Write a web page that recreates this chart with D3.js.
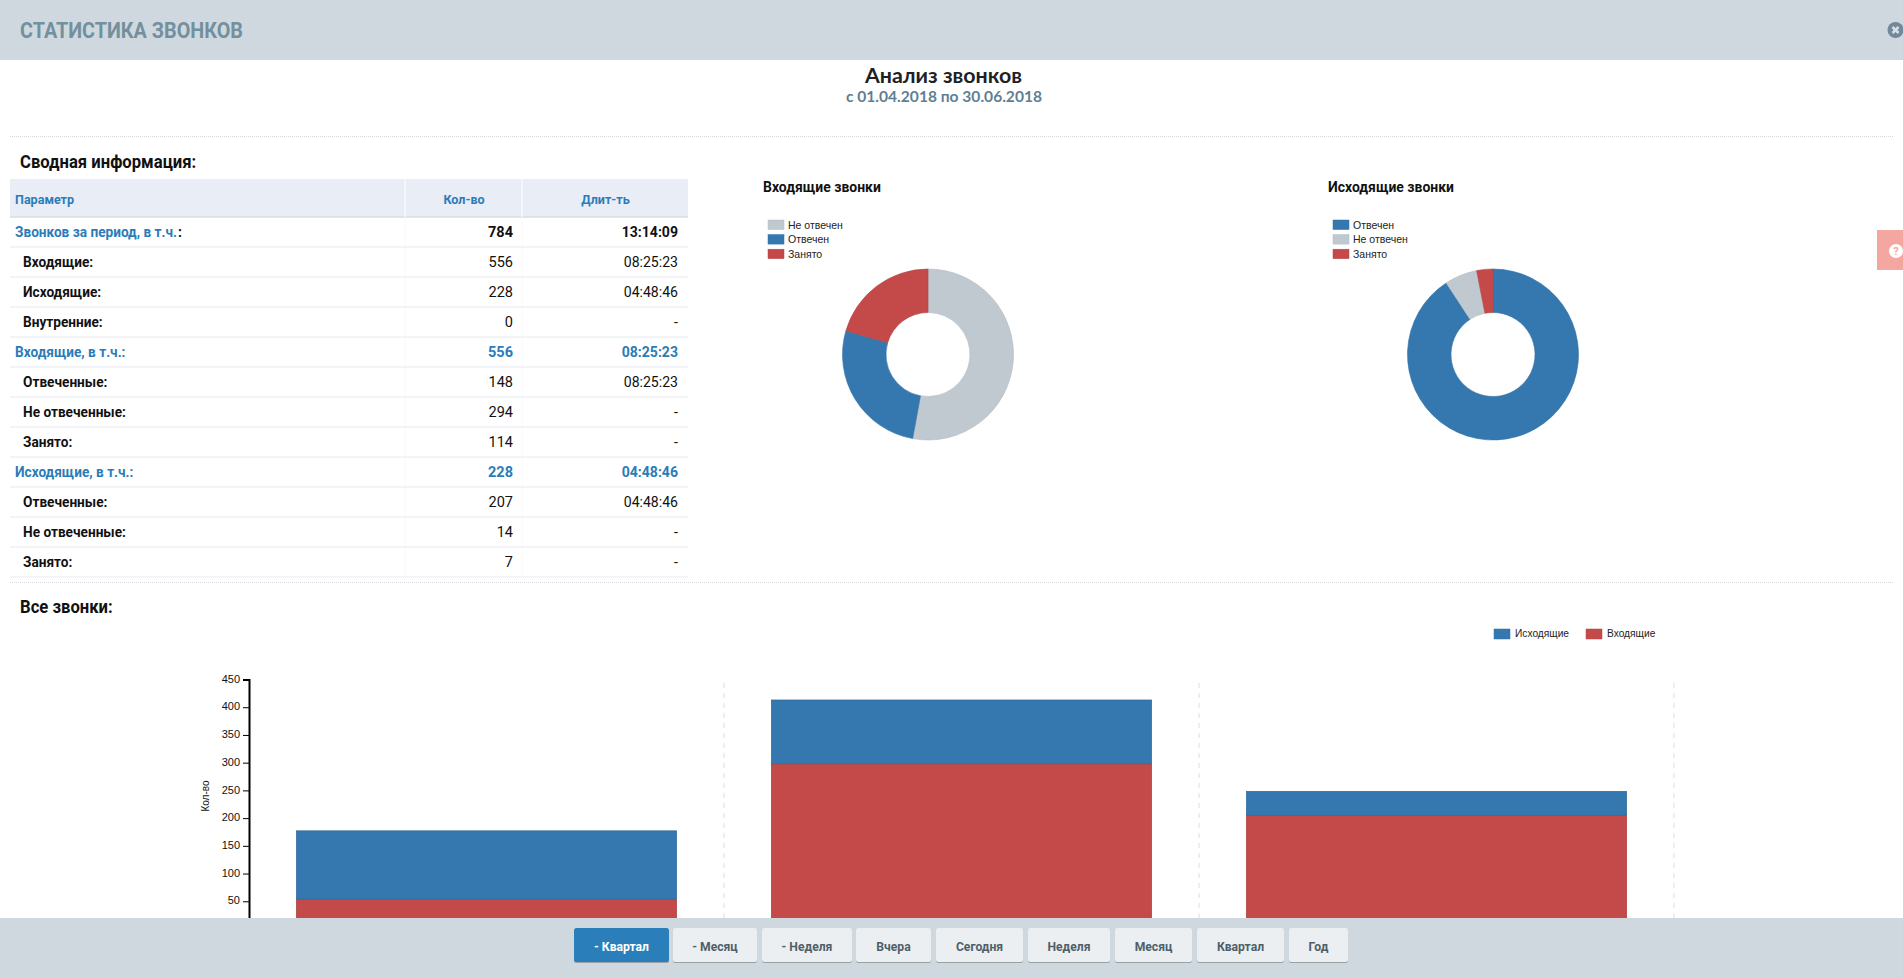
<!DOCTYPE html>
<html>
<head>
<meta charset="utf-8">
<script src="https://cdn.jsdelivr.net/npm/d3@7"></script>
<style>
  html, body { margin: 0; padding: 0; background: #fff; overflow: hidden; }
  svg { display: block; }
  text { font-family: Roboto, "Noto Sans", sans-serif; }
  .small { font-family: "Liberation Sans", Arial, sans-serif; }
  .wide { font-family: Lato, "Noto Sans", Roboto, sans-serif; }
</style>
</head>
<body>
<div id="container"></div>
<script>
// table data
const rowLabels = ['Звонков за период, в т.ч.','Входящие:','Исходящие:','Внутренние:','Входящие, в т.ч.:','Отвеченные:','Не отвеченные:','Занято:','Исходящие, в т.ч.:','Отвеченные:','Не отвеченные:','Занято:'];
const rowCounts = [784,556,228,0,556,148,294,114,228,207,14,7];
const rowDurations = ['13:14:09','08:25:23','04:48:46','-','08:25:23','08:25:23','-','-','04:48:46','04:48:46','-','-'];
const rowKinds = ['total','sub','sub','sub','section','sub','sub','sub','section','sub','sub','sub'];
const tableHeads = ['Параметр','Кол-во','Длит-ть'];

// donuts
const inLabels = ['Не отвечен','Отвечен','Занято'];
const inValues = [294,148,114];
const outLabels = ['Отвечен','Не отвечен','Занято'];
const outValues = [207,14,7];

// stacked bars, category labels are hidden behind the footer
const periods = ['Апрель','Май','Июнь'];
const incoming = [54,298,205];
const outgoing = [123,115,43];
const yTicks = [50,100,150,200,250,300,350,400,450];
const barSeries = ['Входящие','Исходящие'];

const buttons = ['- Квартал','- Месяц','- Неделя','Вчера','Сегодня','Неделя','Месяц','Квартал','Год'];
const buttonEdges = [574,669,673,757,762,852,856,931,936,1023,1028,1110,1115,1192,1197,1284,1289,1348];

const blue = '#3578b0', red = '#c44a4a', grey = '#bfc9cf';
const colorOf = {'Отвечен':blue,'Не отвечен':grey,'Занято':red,'Исходящие':blue,'Входящие':red};
const linkBlue = '#2b7cb8';

const width = 1903, height = 978;
const svg = d3.select('#container').append('svg').attr('width',width).attr('height',height);

function label(parent,x,y,str,size,weight,fill,anchor){
    return parent.append('text')
        .attr('x',x).attr('y',y)
        .attr('dominant-baseline','central')
        .attr('text-anchor',anchor || 'start')
        .attr('font-size',size)
        .attr('font-weight',weight)
        .attr('fill',fill)
        .text(str);
}

//Squeeze a text horizontally, the original font is taller and narrower than Roboto
function condense(sel,k){
    return sel.attr('textLength',sel.node().getComputedTextLength()*k).attr('lengthAdjust','spacingAndGlyphs');
}

//Titles
label(svg,943.5,75,'Анализ звонков',20.5,700,'#1c2226','middle')
    .attr('class','wide').attr('textLength',157).attr('lengthAdjust','spacingAndGlyphs');
label(svg,944,96,'с 01.04.2018 по 30.06.2018',15,700,'#5f7f93','middle')
    .attr('class','wide').attr('textLength',196).attr('lengthAdjust','spacingAndGlyphs');

//Dotted separators
[136.5,582.5].forEach(y => {
    svg.append('line').attr('x1',10).attr('x2',1893).attr('y1',y).attr('y2',y)
       .attr('stroke','#d4d8db').attr('stroke-dasharray','1,1');
});

condense(label(svg,20,161,'Сводная информация:',18,700,'#111'),0.925);
condense(label(svg,20,606,'Все звонки:',18,700,'#111'),0.925);

//Table
const table = svg.append('g');
const colX = [10,405,522,688];
const rowTop = 217, rowH = 30;
const rowY = d3.scaleLinear().domain([0,1]).range([rowTop,rowTop+rowH]);

table.append('rect').attr('x',colX[0]).attr('y',179).attr('width',colX[3]-colX[0]).attr('height',38).attr('fill','#e9eef6');
table.append('line').attr('x1',colX[0]).attr('x2',colX[3]).attr('y1',217).attr('y2',217).attr('stroke','#d8dde2').attr('stroke-width',1.5);
colX.slice(1,3).forEach(x => {
    table.append('line').attr('x1',x).attr('x2',x).attr('y1',179).attr('y2',217).attr('stroke','#fff');
    table.append('line').attr('x1',x).attr('x2',x).attr('y1',217).attr('y2',rowY(rowLabels.length))
         .attr('stroke','#f3f4f6').attr('stroke-dasharray','1,1');
});
condense(label(table,15,198.5,tableHeads[0],13.5,700,linkBlue),0.93);
condense(label(table,464,198.5,tableHeads[1],13.5,700,linkBlue,'middle'),0.93);
condense(label(table,605.5,198.5,tableHeads[2],13.5,700,linkBlue,'middle'),0.93);

rowLabels.forEach((name,i) => {
    const mid = rowY(i)+rowH/2;
    const kind = rowKinds[i];
    const headFill = kind === 'sub' ? '#111' : linkBlue;
    const valFill = kind === 'section' ? linkBlue : '#111';
    const valWeight = kind === 'sub' ? 400 : 700;
    const headX = kind === 'sub' ? 23 : 15;
    if (kind === 'total') {
        // the colon of the first row is dark in the original, so it is a text of its own
        const head = label(table, 0, 0, name, 15, 700, headFill)
            .attr('transform',`translate(${headX},${mid}) scale(0.91,1)`);
        const len = head.node().getComputedTextLength()*0.91;
        label(table, headX+len+1, mid, ':', 14, 700, '#111');
    } else {
        condense(label(table, headX, mid, name, 15, 700, headFill),0.91);
    }
    label(table, 513, mid, rowCounts[i], 14.5, valWeight, valFill, 'end');
    condense(label(table, 678, mid, rowDurations[i], 14.5, valWeight, valFill, 'end'),0.97);
    table.append('line').attr('x1',colX[0]).attr('x2',colX[3]).attr('y1',rowY(i+1)).attr('y2',rowY(i+1)).attr('stroke','#e6e9ee');
});

//Donuts
function donut(title,names,values,titleX,legendX,cx,cy){
    const g = svg.append('g');
    condense(label(g,titleX,187,title,15,700,'#111'),0.93);
    const pie = d3.pie().sort(null)(values);
    const arc = d3.arc().innerRadius(42).outerRadius(85.5);
    g.append('g').attr('transform',`translate(${cx},${cy})`)
     .selectAll('path').data(pie).enter().append('path')
     .attr('d',arc)
     .attr('fill',(d,i) => colorOf[names[i]])
     .attr('stroke',(d,i) => d3.color(colorOf[names[i]]).darker(0.2))
     .attr('stroke-width',0.6);
    const legendY = d3.scaleLinear().domain([0,1]).range([220,234.6]);
    names.forEach((n,i) => {
        g.append('rect').attr('x',legendX).attr('y',legendY(i)).attr('width',16).attr('height',9.5)
         .attr('fill',colorOf[n]).attr('stroke',d3.color(colorOf[n]).darker(0.2)).attr('stroke-width',0.5);
        label(g,legendX+20,legendY(i)+4.5,n,10.5,400,'#222').attr('class','small');
    });
}
donut('Входящие звонки',inLabels,inValues,763,768,928,354.5);
donut('Исходящие звонки',outLabels,outValues,1328,1333,1493,354.5);

//Stacked bars
const xScale = d3.scaleBand().domain(periods).range([249,1674]).paddingInner(0.2).paddingOuter(0.1);
const yScale = d3.scaleLinear().domain([0,450]).range([929,679.5]);

const chart = svg.append('g');
xScale.domain().forEach(p => {
    const x = xScale(p)+xScale.bandwidth()+xScale.step()*0.1;
    chart.append('line').attr('x1',x).attr('x2',x).attr('y1',683).attr('y2',929)
         .attr('stroke','#e9e9e9').attr('stroke-width',1.5).attr('stroke-dasharray','5,5');
});
periods.forEach((p,i) => {
    const bars = [[0,incoming[i],red],[incoming[i],incoming[i]+outgoing[i],blue]];
    bars.forEach(b => {
        chart.append('rect')
             .attr('x',xScale(p)).attr('width',xScale.bandwidth())
             .attr('y',yScale(b[1])).attr('height',yScale(b[0])-yScale(b[1]))
             .attr('fill',b[2]).attr('stroke',d3.color(b[2]).darker(0.3)).attr('stroke-width',0.8);
    });
});

const yAxis = d3.axisLeft(yScale).tickValues(yTicks).tickSize(6).tickPadding(3);
const yG = chart.append('g').attr('transform','translate(249,0)').call(yAxis);
yG.select('.domain').attr('stroke','#000').attr('stroke-width',2);
yG.selectAll('.tick text').attr('class','small').attr('font-size',11).attr('fill','#111').attr('dy','0.24em');
yG.selectAll('.tick line').attr('stroke','#000');

label(chart,0,0,'Кол-во',10,400,'#111','middle')
    .attr('class','small')
    .attr('transform','translate(205.5,796) rotate(-90)');

[[1494,1515],[1586,1607]].forEach((pos,i) => {
    const name = barSeries[1-i];
    chart.append('rect').attr('x',pos[0]).attr('y',629).attr('width',16).attr('height',10)
         .attr('fill',colorOf[name]).attr('stroke',d3.color(colorOf[name]).darker(0.2)).attr('stroke-width',0.5);
    label(chart,pos[1],633.5,name,10.2,400,'#222').attr('class','small');
});

//Help tab
svg.append('rect').attr('x',1877).attr('y',230).attr('width',26).attr('height',40).attr('fill','#f4a7a1');
svg.append('circle').attr('cx',1896).attr('cy',251).attr('r',7).attr('fill','#fff');
label(svg,1896,251,'?',11,700,'#f4a7a1','middle');

//Header
svg.append('rect').attr('width',width).attr('height',60).attr('fill','#d0d8df');
label(svg,20,30,'СТАТИСТИКА ЗВОНКОВ',22,700,'#73909e')
    .attr('textLength',223).attr('lengthAdjust','spacingAndGlyphs');
svg.append('circle').attr('cx',1895.5).attr('cy',30).attr('r',8).attr('fill','#71899a');
[[-3,-3,3,3],[-3,3,3,-3]].forEach(c => {
    svg.append('line').attr('x1',1895.5+c[0]).attr('y1',30+c[1]).attr('x2',1895.5+c[2]).attr('y2',30+c[3])
       .attr('stroke','#d8dfe4').attr('stroke-width',2.6);
});

//Footer
svg.append('rect').attr('y',918).attr('width',width).attr('height',60).attr('fill','#d0d8df');
buttons.forEach((b,i) => {
    const x0 = buttonEdges[i*2], x1 = buttonEdges[i*2+1];
    const active = i === 0;
    svg.append('rect').attr('x',x0).attr('y',929).attr('width',x1-x0).attr('height',34).attr('rx',2.5)
       .attr('fill','#98a0a4');
    svg.append('rect').attr('x',x0).attr('y',928).attr('width',x1-x0).attr('height',34).attr('rx',2.5)
       .attr('fill',active ? '#2a7fba' : '#ebeff1');
    condense(label(svg,(x0+x1)/2,945.5,b,13.5,700,active ? '#fff' : '#4f5f6a','middle'),0.9);
});
</script>
</body>
</html>
